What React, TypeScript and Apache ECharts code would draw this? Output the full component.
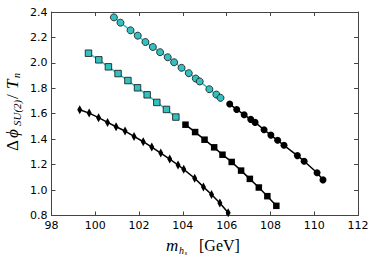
import React, { useEffect, useRef } from "react";
import * as echarts from "echarts";

const xTicks = { min: 98, max: 112, interval: 2 };
const yTicks = { min: 0.8, max: 2.4, interval: 0.2 };

const circleCyanX = [100.85, 101.15, 101.61, 101.94, 102.29, 102.63, 102.96, 103.31, 103.6, 103.94, 104.27, 104.59, 104.77, 105.21, 105.53, 105.72];
const circleCyanY = [2.358, 2.316, 2.256, 2.214, 2.164, 2.125, 2.084, 2.044, 2.005, 1.961, 1.919, 1.877, 1.854, 1.793, 1.751, 1.725];
const circleBlackX = [106.14, 106.46, 106.8, 107.1, 107.3, 107.71, 108.02, 108.33, 108.62, 109.23, 109.54, 110.13, 110.4];
const circleBlackY = [1.676, 1.634, 1.592, 1.556, 1.532, 1.474, 1.432, 1.391, 1.352, 1.271, 1.227, 1.136, 1.08];
const squareCyanX = [99.69, 100.16, 100.6, 101.04, 101.49, 101.93, 102.37, 102.81, 103.25, 103.68];
const squareCyanY = [2.076, 2.024, 1.969, 1.916, 1.861, 1.804, 1.749, 1.689, 1.634, 1.574];
const squareBlackX = [104.12, 104.56, 104.99, 105.43, 105.81, 106.23, 106.66, 107.06, 107.47, 107.86, 108.27];
const squareBlackY = [1.514, 1.456, 1.396, 1.336, 1.278, 1.221, 1.153, 1.088, 1.02, 0.952, 0.876];
const diamondX = [99.29, 99.72, 100.15, 100.56, 100.95, 101.36, 101.77, 102.19, 102.58, 102.99, 103.4, 103.78, 104.04, 104.54, 104.94, 105.31, 105.69, 106.07];
const diamondY = [1.631, 1.605, 1.569, 1.532, 1.498, 1.464, 1.422, 1.38, 1.338, 1.291, 1.244, 1.197, 1.163, 1.093, 1.025, 0.965, 0.899, 0.821];

const CYAN = "#35bfbf";
const BLACK = "#000000";

const zip = (xs: number[], ys: number[]) => xs.map((x, i) => [x, ys[i]]);

export default function App() {
  const ref = useRef<HTMLDivElement>(null);
  useEffect(() => {
    if (!ref.current) return;
    const chart = echarts.init(ref.current, null, { renderer: "svg" });
    const frame = "#444";
    const mkSeries = (data: number[][], color: string, symbol: string, size: any) => ({
      type: "line",
      data,
      symbol,
      symbolSize: size,
      showSymbol: true,
      lineStyle: { color, width: 1.5 },
      itemStyle: { color, borderColor: "#111", borderWidth: color === CYAN ? 0.8 : 0 },
      z: 3,
    });
    const serifIt = { fontFamily: "Liberation Serif", fontStyle: "italic", fill: "#000" };
    const serif = { fontFamily: "Liberation Serif", fill: "#000" };
    const axisCommon = {
      axisLine: { show: true, lineStyle: { color: frame, width: 1 } },
      axisTick: { show: true, inside: true, length: 4, lineStyle: { color: frame } },
      splitLine: { show: false },
    };
    chart.setOption({
      animation: false,
      grid: { left: 51.5, right: 16, top: 12, bottom: 46.5 },
      xAxis: [
        {
          type: "value",
          min: xTicks.min,
          max: xTicks.max,
          interval: xTicks.interval,
          ...axisCommon,
          axisLabel: { color: "#000", fontSize: 11, fontFamily: "DejaVu Sans", margin: 4 },
        },
        {
          type: "value",
          position: "top",
          min: xTicks.min,
          max: xTicks.max,
          interval: xTicks.interval,
          ...axisCommon,
          axisLabel: { show: false },
        },
      ],
      yAxis: [
        {
          type: "value",
          min: yTicks.min,
          max: yTicks.max,
          interval: yTicks.interval,
          ...axisCommon,
          axisLabel: {
            color: "#000",
            fontSize: 11,
            fontFamily: "DejaVu Sans",
            margin: 4,
            formatter: (v: number) => v.toFixed(1),
          },
        },
        {
          type: "value",
          position: "right",
          min: yTicks.min,
          max: yTicks.max,
          interval: yTicks.interval,
          ...axisCommon,
          axisLabel: { show: false },
        },
      ],
      series: [
        mkSeries(zip(diamondX, diamondY), BLACK, "diamond", [5, 9]),
        mkSeries(zip(squareCyanX, squareCyanY), CYAN, "rect", 6.5),
        mkSeries(zip(squareBlackX, squareBlackY), BLACK, "rect", 6.5),
        mkSeries(zip(circleCyanX, circleCyanY), CYAN, "circle", 7),
        mkSeries(zip(circleBlackX, circleBlackY), BLACK, "circle", 7),
      ],
      graphic: [
        {
          type: "group",
          children: [
            { type: "text", x: 166, y: 245, style: { ...serifIt, text: "m", fontSize: 17, verticalAlign: "middle" } },
            { type: "text", x: 179, y: 250, style: { ...serifIt, text: "h", fontSize: 10, verticalAlign: "middle" } },
            { type: "text", x: 184.5, y: 253, style: { ...serifIt, text: "s", fontSize: 7, verticalAlign: "middle" } },
            { type: "text", x: 199, y: 245, style: { ...serif, text: "[GeV]", fontSize: 16, verticalAlign: "middle" } },
          ],
        },
        {
          type: "group",
          x: 12,
          y: 151,
          rotation: Math.PI / 2,
          children: [
            { type: "text", x: 0, y: 0, style: { ...serif, text: "Δ", fontSize: 17, verticalAlign: "middle" } },
            { type: "text", x: 13, y: 0, style: { ...serifIt, text: "ϕ", fontSize: 17, verticalAlign: "middle" } },
            { type: "text", x: 25, y: 5, style: { ...serifIt, text: "SU(2)", fontSize: 11, verticalAlign: "middle" } },
            { type: "text", x: 52, y: 0, style: { ...serif, text: "/", fontSize: 17, verticalAlign: "middle" } },
            { type: "text", x: 62, y: 0, style: { ...serifIt, text: "T", fontSize: 17, verticalAlign: "middle" } },
            { type: "text", x: 73, y: 4, style: { ...serifIt, text: "n", fontSize: 10, verticalAlign: "middle" } },
          ],
        },
      ],
    });
    return () => chart.dispose();
  }, []);
  return <div ref={ref} style={{ width: 374, height: 262, position: "absolute", left: 0, top: 0 }} />;
}
